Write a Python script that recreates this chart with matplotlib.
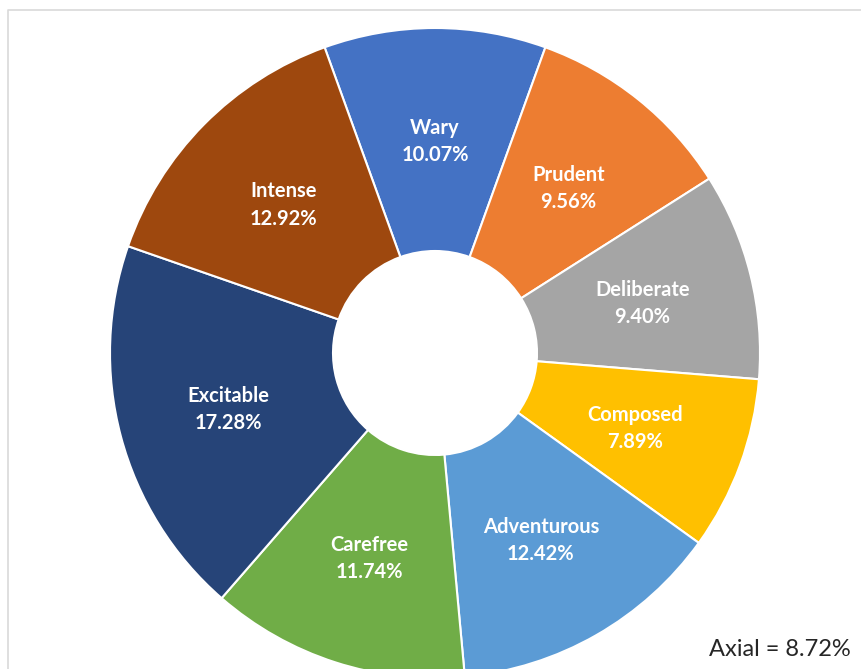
import numpy as np
import matplotlib.pyplot as plt

names = ["Wary", "Prudent", "Deliberate", "Composed", "Adventurous", "Carefree", "Excitable", "Intense"]
shares = [10.07, 9.56, 9.40, 7.89, 12.42, 11.74, 17.28, 12.92]
colors = ["#4472C4", "#ED7D31", "#A5A5A5", "#FFC000", "#5B9BD5", "#70AD47", "#264478", "#9E480E"]
axial_share = 8.72

W, H = 861, 669
fig = plt.figure(figsize=(W / 100, H / 100), dpi=100)
ax = fig.add_axes([0, 0, 1, 1])

# grey frame (cropped on right and bottom)
ax.plot([8, 8, W + 5], [-5, H - 10, H - 10], color="#D9D9D9", lw=1.2)

cx, cy = 435, H - 353
r_out, r_in = 325, 102

# Wary is centred on 12 o'clock
start = 90 + shares[0] / sum(shares) * 360 / 2
wedges, _ = ax.pie(shares, colors=colors, startangle=start, counterclock=False,
                   radius=r_out, center=(cx, cy), frame=True,
                   wedgeprops=dict(width=r_out - r_in, edgecolor="white", linewidth=1.5))
ax.set_xlim(0, W)
ax.set_ylim(0, H)
ax.set_aspect("equal")
ax.axis("off")

r_lab = (r_out + r_in) / 2
for w, n, v in zip(wedges, names, shares):
    a = np.deg2rad((w.theta1 + w.theta2) / 2)
    ax.text(cx + r_lab * np.cos(a), cy + r_lab * np.sin(a) - 2, f"{n}\n{v:.2f}%",
            ha="center", va="center", color="white", fontsize=14.5,
            fontweight="bold", family="Lato", linespacing=1.45)

ax.text(851, H - 650, f"Axial = {axial_share:.2f}%", ha="right", va="center",
        fontsize=17, family="Lato", color="#262626")

fig.savefig("out.png", dpi=100)
